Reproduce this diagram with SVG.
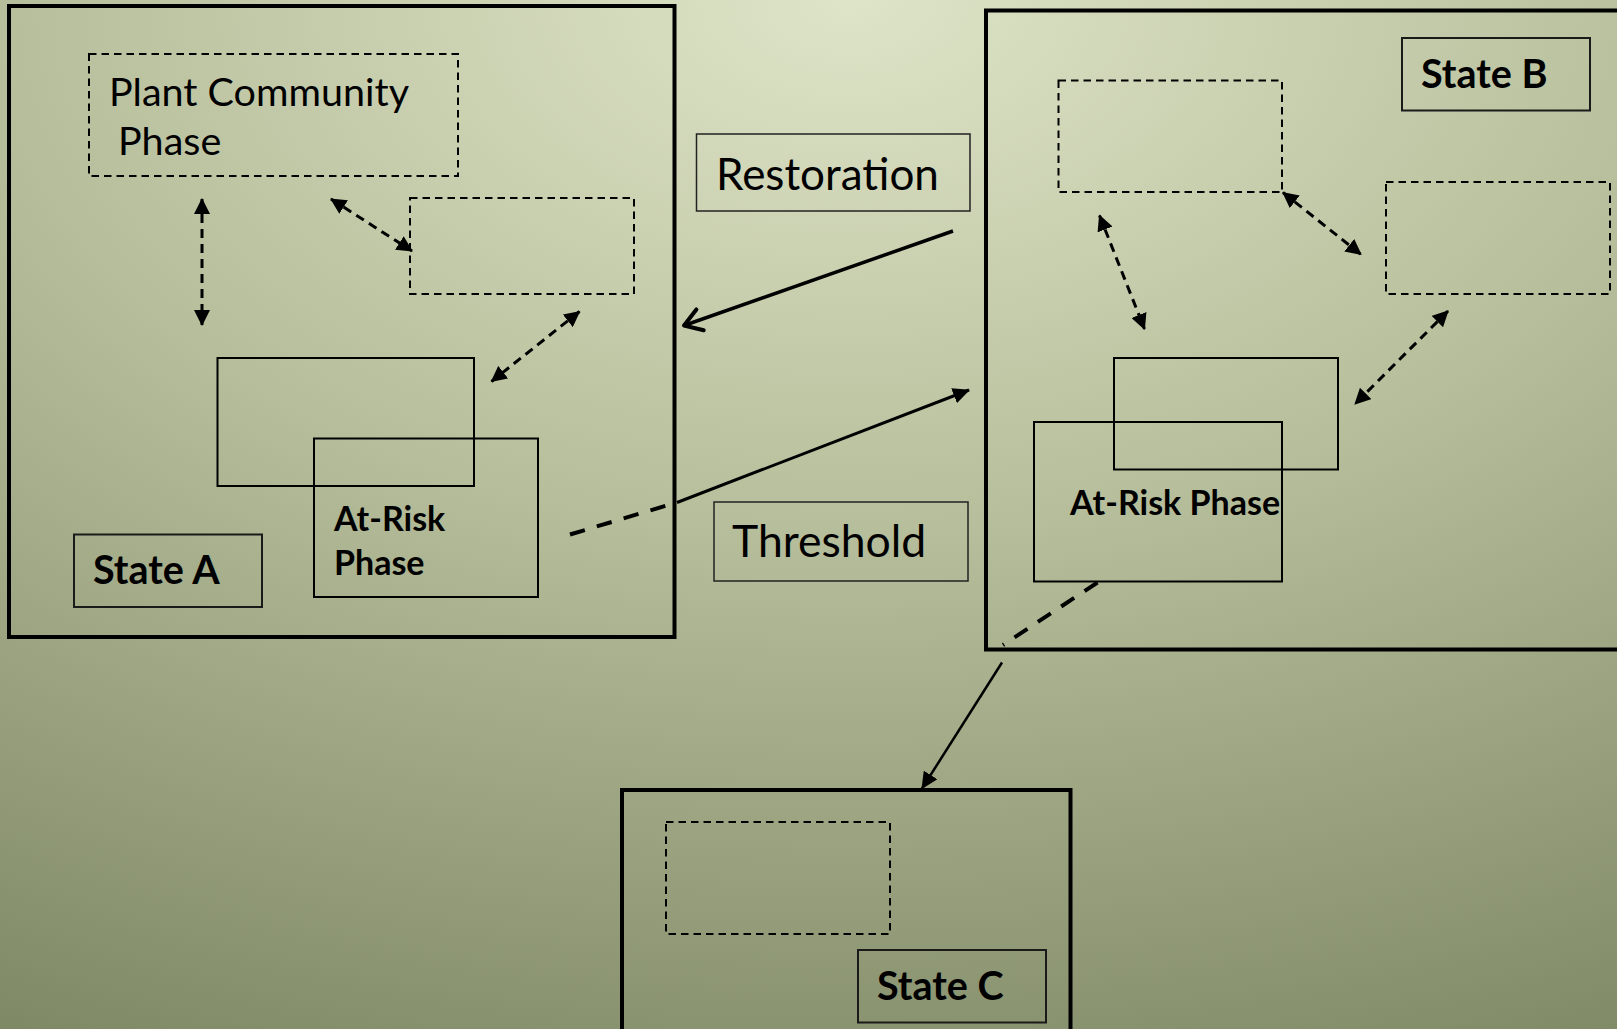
<svg xmlns="http://www.w3.org/2000/svg" width="1617" height="1029" viewBox="0 0 1617 1029">
  <defs>
    <radialGradient id="bg" gradientUnits="userSpaceOnUse" cx="850" cy="0" r="1200" gradientTransform="translate(850 0) scale(1.6 1) translate(-850 0)">
      <stop offset="0" stop-color="#dee4c7"/>
      <stop offset="0.44" stop-color="#b7be9b"/>
      <stop offset="0.56" stop-color="#a9b18f"/>
      <stop offset="0.86" stop-color="#8a936f"/>
      <stop offset="1" stop-color="#7b8560"/>
    </radialGradient>
    <marker id="tri" markerUnits="userSpaceOnUse" viewBox="0 0 16 16" markerWidth="16" markerHeight="16" refX="15" refY="8" orient="auto-start-reverse">
      <path d="M0,0 L16,8 L0,16 z" fill="#000"/>
    </marker>
    <marker id="triBig" markerUnits="userSpaceOnUse" viewBox="0 0 17 16" markerWidth="17" markerHeight="16" refX="16" refY="8" orient="auto">
      <path d="M0,0 L17,8 L0,16 z" fill="#000"/>
    </marker>
    <marker id="openV" markerUnits="userSpaceOnUse" viewBox="-22 -14 26 28" markerWidth="26" markerHeight="28" refX="0" refY="0" orient="auto">
      <path d="M-17,-11 L0,0 L-17,11" fill="none" stroke="#000" stroke-width="4" stroke-linecap="round" stroke-linejoin="round"/>
    </marker>
    <style>
      .state { fill: none; stroke: #000; stroke-width: 4; }
      .phase { fill: none; stroke: #000; stroke-width: 2; stroke-dasharray: 7.5 5; }
      .solid { fill: none; stroke: #000; stroke-width: 2; }
      .label { fill: none; stroke: #1a1a1a; stroke-width: 2; }
      .tbox { fill: none; stroke: #222; stroke-width: 1.5; }
      .reg { font-family: Lato, "Open Sans", "Liberation Sans", sans-serif; fill: #000; }
      .bold { font-family: Lato, "Open Sans", "Liberation Sans", sans-serif; font-weight: bold; fill: #000; }
      .dArrow { fill: none; stroke: #000; stroke-width: 3; stroke-dasharray: 9 6; marker-start: url(#tri); marker-end: url(#tri); }
      .thick { fill: none; stroke: #000; stroke-width: 4; stroke-dasharray: 15.5 12.5; }
    </style>
  </defs>

  <rect x="0" y="0" width="1617" height="1029" fill="url(#bg)"/>

  <g id="state-a">
    <rect class="state" x="9" y="6" width="665.5" height="631"/>
    <g id="phase-a1">
      <rect class="phase" x="89" y="54" width="369" height="122"/>
      <text class="reg" x="109" y="105.5" font-size="39.5">Plant Community</text>
      <text class="reg" x="118" y="155" font-size="39.5">Phase</text>
    </g>
    <rect id="phase-a2" class="phase" x="410" y="198" width="224" height="96"/>
    <rect id="phase-a3" class="solid" x="217.5" y="358" width="256.5" height="128"/>
    <g id="at-risk-a">
      <rect class="solid" x="314" y="438.5" width="224" height="158.5"/>
      <text class="bold" x="334" y="531" font-size="34">At-Risk</text>
      <text class="bold" x="334" y="575" font-size="34">Phase</text>
    </g>
    <g id="label-a">
      <rect class="label" x="74" y="534.5" width="188" height="72.5"/>
      <text class="bold" x="93" y="583.5" font-size="39.5">State A</text>
    </g>
  </g>

  <g id="state-b">
    <rect class="state" x="986" y="10.5" width="640" height="639"/>
    <g id="label-b">
      <rect class="label" x="1402" y="38" width="188" height="72.5"/>
      <text class="bold" x="1421" y="88" font-size="39.5">State B</text>
    </g>
    <rect id="phase-b1" class="phase" x="1058.5" y="80.5" width="223.5" height="111.5"/>
    <rect id="phase-b2" class="phase" x="1386" y="182" width="224" height="112"/>
    <rect id="phase-b3" class="solid" x="1114" y="358" width="224" height="111.5"/>
    <g id="at-risk-b">
      <rect class="solid" x="1034" y="422" width="248" height="159.5"/>
      <text class="bold" x="1070" y="514.5" font-size="34">At-Risk Phase</text>
    </g>
  </g>

  <g id="state-c">
    <rect class="state" x="622" y="790" width="448.5" height="260"/>
    <rect id="phase-c1" class="phase" x="666" y="822" width="224" height="112"/>
    <g id="label-c">
      <rect class="label" x="858" y="950" width="188" height="72.5"/>
      <text class="bold" x="877" y="999.5" font-size="39.5">State C</text>
    </g>
  </g>

  <g id="restoration">
    <rect class="tbox" x="696.5" y="134" width="273.5" height="77"/>
    <text class="reg" x="716" y="190" font-size="44">Restoration</text>
  </g>
  <g id="threshold">
    <rect class="tbox" x="714" y="502" width="254" height="79"/>
    <text class="reg" x="732" y="557" font-size="44.5">Threshold</text>
  </g>

  <g id="connectors">
    <line class="dArrow" x1="202" y1="199" x2="202" y2="325"/>
    <line class="dArrow" x1="331" y1="199" x2="412" y2="251"/>
    <line class="dArrow" x1="579.5" y1="311.5" x2="491.5" y2="381.5"/>
    <line class="dArrow" x1="1099.5" y1="215.5" x2="1144.5" y2="329"/>
    <line class="dArrow" x1="1283" y1="192.5" x2="1361" y2="254.5"/>
    <line class="dArrow" x1="1448" y1="311" x2="1355" y2="404"/>
    <line fill="none" stroke="#000" stroke-width="3.5" x1="953" y1="231" x2="684" y2="325.5" marker-end="url(#openV)"/>
    <path class="thick" d="M570,534.5 L675,503"/>
    <line fill="none" stroke="#000" stroke-width="3" x1="677" y1="502.5" x2="969" y2="390" marker-end="url(#triBig)"/>
    <path class="thick" d="M1097.5,582.5 L1003,645"/>
    <line fill="none" stroke="#000" stroke-width="2.5" x1="1002" y1="662.5" x2="922" y2="788.5" marker-end="url(#triBig)"/>
  </g>
</svg>
